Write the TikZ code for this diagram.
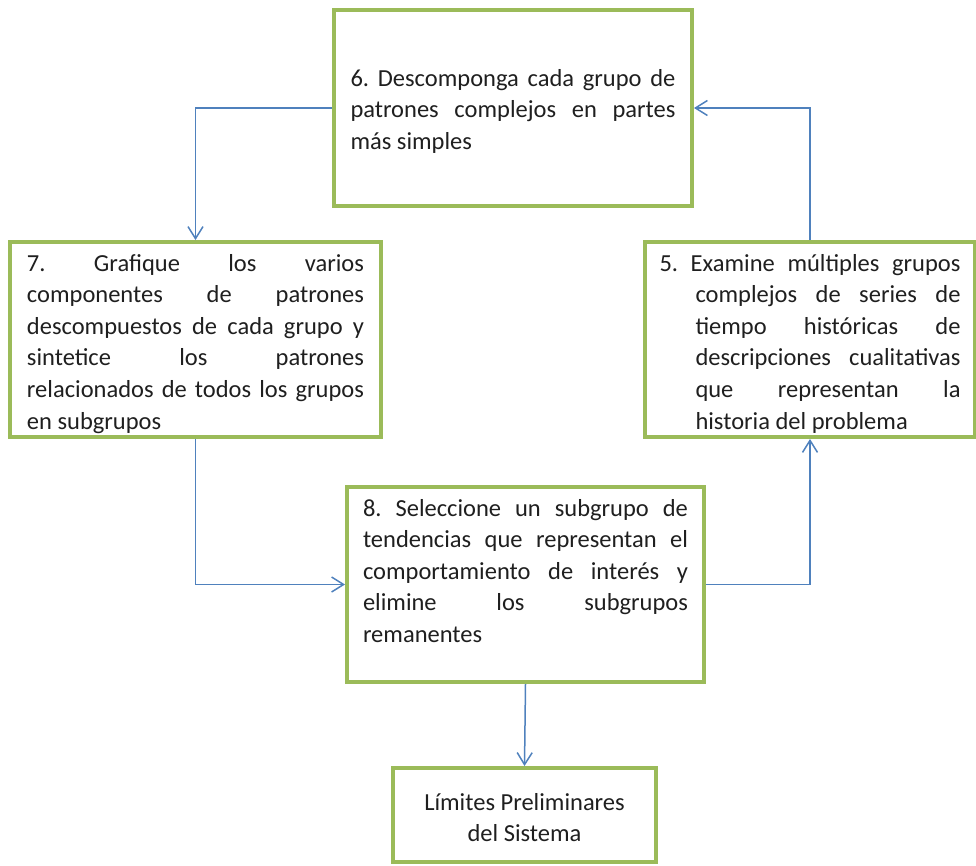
\documentclass[tikz,border=0pt]{standalone}
\usepackage{fontspec}
\setmainfont{Carlito}
\usetikzlibrary{arrows.meta}
\definecolor{boxgreen}{HTML}{9BBB59}
\definecolor{linkblue}{HTML}{4F81BD}
\definecolor{txt}{HTML}{1F1F1F}
\frenchspacing
\newcommand\jl[1]{\hbox to \linewidth{\strut\frenchspacing\spaceskip=.226em plus 1fil\relax #1}}
\newcommand\jli[1]{\hbox to \linewidth{\hskip 36pt\hbox to \dimexpr\linewidth-36pt\relax{\strut\frenchspacing\spaceskip=.226em plus 1fil\relax #1}}}
\newcommand\lastl[1]{\hbox{\strut #1}}
\newcommand\lastli[1]{\hbox{\hskip 36pt\strut #1}}
\newcommand\cenl[1]{\hbox to \linewidth{\hfil\strut #1\hfil}}
\tikzset{
  stepbox/.style={draw=boxgreen, line width=4pt, inner sep=0pt, fill=white,
    font=\fontsize{24.5}{31.6}\selectfont, text=txt},
  link/.style={draw=linkblue, line width=1.5pt,
    -{Straight Barb[length=12pt,width=15pt]}}
}
\begin{document}
\begin{tikzpicture}[x=1pt,y=-1pt]
\useasboundingbox (0,0) rectangle (976,865);
\node[stepbox, minimum width=358pt] (b6) at (513,108)
  {\parbox[c][196pt][t]{325pt}{\vspace*{54pt}%
   \jl{6. Descomponga cada grupo de}
   \jl{patrones complejos en partes}
   \lastl{más simples}}};
\node[stepbox, minimum width=371pt] (b7) at (195.5,339.5)
  {\parbox[c][195pt][t]{337pt}{\vspace*{7pt}%
   \jl{7. Grafique los varios}
   \jl{componentes de patrones}
   \jl{descompuestos de cada grupo y}
   \jl{sintetice los patrones}
   \jl{relacionados de todos los grupos}
   \lastl{en subgrupos}}};
\node[stepbox, minimum width=330pt] (b5) at (810,339.5)
  {\parbox[c][195pt][t]{301pt}{\vspace*{7pt}%
   \jl{5. Examine múltiples grupos}
   \jli{complejos de series de}
   \jli{tiempo históricas de}
   \jli{descripciones cualitativas}
   \jli{que representan la}
   \lastli{historia del problema}}};
\node[stepbox, minimum width=357pt] (b8) at (525.5,584.5)
  {\parbox[c][195pt][t]{325pt}{\vspace*{7pt}%
   \jl{8. Seleccione un subgrupo de}
   \jl{tendencias que representan el}
   \jl{comportamiento de interés y}
   \jl{elimine los subgrupos}
   \lastl{remanentes}}};
\node[stepbox, minimum width=263pt] (fin) at (524.5,815)
  {\parbox[c][94pt][t]{240pt}{\vspace*{20pt}%
   \cenl{Límites Preliminares}
   \cenl{del Sistema}}};
\draw[link] (b6.west) -| (b7.north);
\draw[link] (b5.north) |- (b6.east);
\draw[link] (b7.south) |- (b8.west);
\draw[link] (b8.east) -| (b5.south);
\draw[link] (b8.south) -- (fin.north);
\end{tikzpicture}
\end{document}
